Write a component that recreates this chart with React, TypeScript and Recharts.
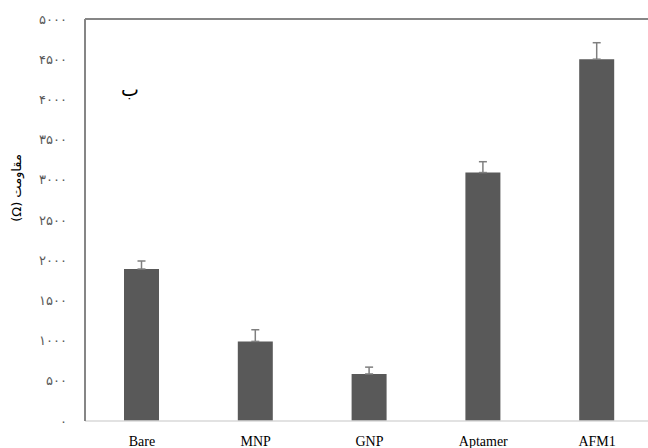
import React from "react";
import { BarChart, Bar, XAxis, YAxis, ErrorBar, ReferenceLine } from "recharts";

const categories = ["Bare", "MNP", "GNP", "Aptamer", "AFM1"];
const resistance = [1890, 990, 585, 3090, 4500];
const errorUp = [100, 145, 85, 135, 205];
const yTicks = [0, 500, 1000, 1500, 2000, 2500, 3000, 3500, 4000, 4500, 5000];

const faDigits = "۰۱۲۳۴۵۶۷۸۹";
const toFa = (v: number) => String(v).replace(/\d/g, (d) => faDigits[Number(d)]);

const data = categories.map((name, i) => ({
  name,
  value: resistance[i],
  err: [0, errorUp[i]],
}));

const YLabel = () => (
  <text
    transform="translate(16, 188) rotate(-90)"
    textAnchor="middle"
    dominantBaseline="central"
    fill="#000"
    fontSize={13}
    fontFamily="DejaVu Sans"
    style={{ direction: "rtl" }}
  >
    مقاومت (Ω)
  </text>
);

export default function App() {
  return (
    <div
      style={{
        position: "fixed",
        left: 0,
        top: 0,
        width: 648,
        height: 448,
        overflow: "hidden",
        background: "#fff",
      }}
    >
      <BarChart
        width={660}
        height={448}
        data={data}
        margin={{ top: 19, right: 6, bottom: 0, left: 0 }}
        barCategoryGap="0%"
      >
        <XAxis
          dataKey="name"
          height={27}
          tickLine={false}
          axisLine={{ stroke: "#d9d9d9", strokeWidth: 1.5 }}
          tick={{ fill: "#000", fontSize: 14, style: { fontFamily: "'Liberation Serif', serif" } }}
          tickMargin={9}
          interval={0}
        />
        <YAxis
          width={85}
          domain={[0, 5000]}
          ticks={yTicks}
          tickFormatter={toFa}
          tickLine={false}
          tickMargin={12}
          axisLine={{ stroke: "#868686", strokeWidth: 2 }}
          tick={{ fill: "#595959", fontSize: 13, fontFamily: "DejaVu Sans" }}
          label={{ content: YLabel }}
        />
        <ReferenceLine y={5000} stroke="#868686" strokeWidth={2} />
        <Bar dataKey="value" fill="#595959" barSize={35} isAnimationActive={false}>
          <ErrorBar dataKey="err" width={4} stroke="#7f7f7f" strokeWidth={1.5} direction="y" />
        </Bar>
      </BarChart>
      <div
        style={{
          position: "absolute",
          left: 121,
          top: 78,
          fontSize: 19,
          fontFamily: "DejaVu Sans",
          color: "#000",
        }}
      >
        ب
      </div>
    </div>
  );
}
